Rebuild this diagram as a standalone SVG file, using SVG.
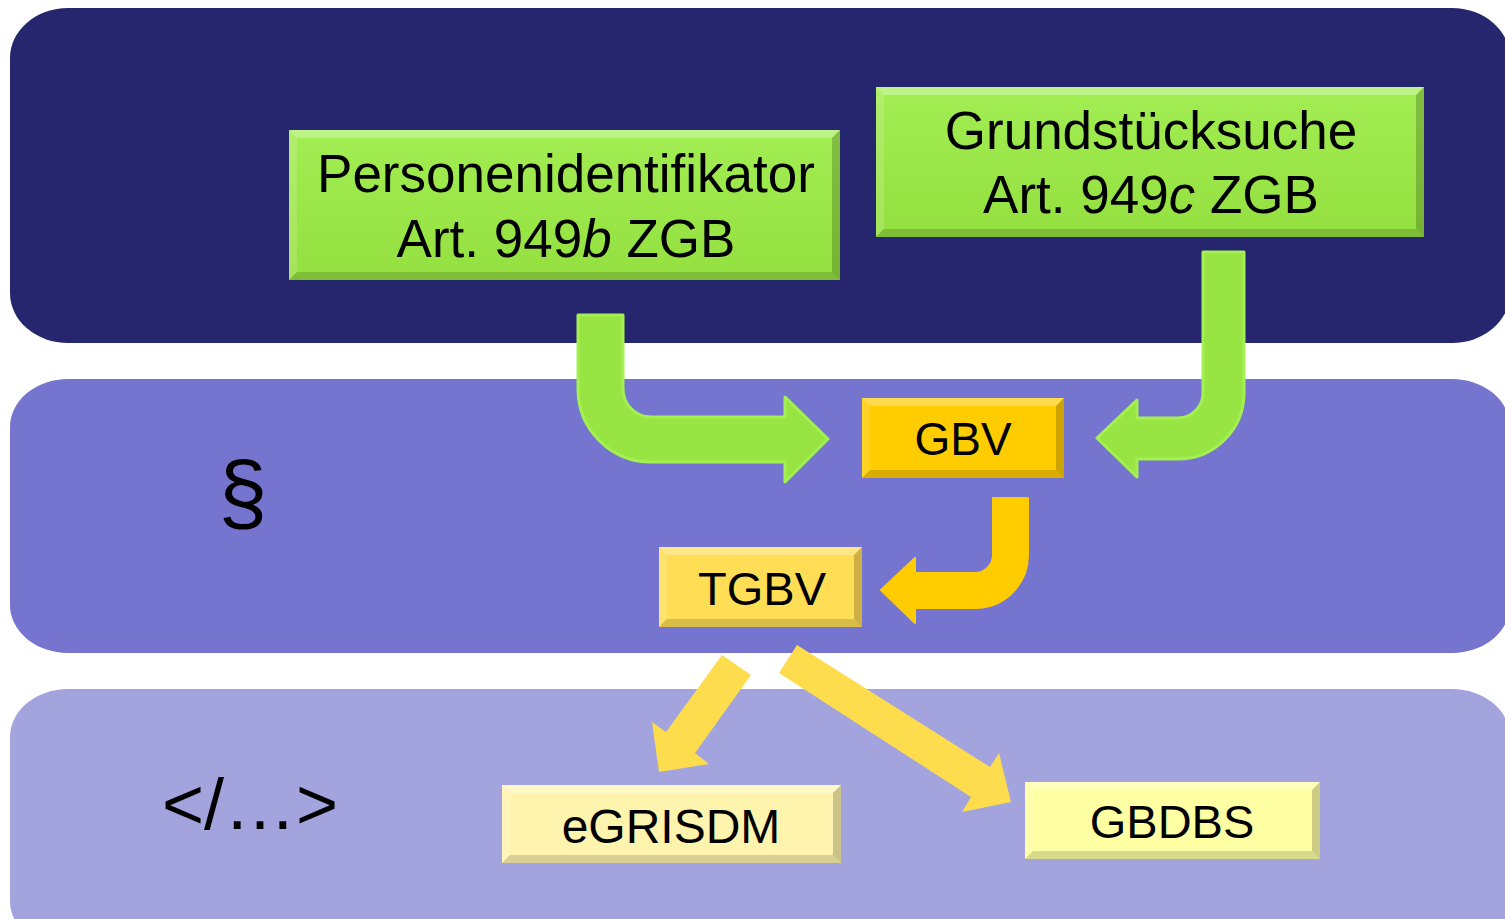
<svg xmlns="http://www.w3.org/2000/svg" width="1505" height="919" viewBox="0 0 1505 919">
<defs>
<style>
.lbl{font-family:"Liberation Sans",Arial,sans-serif;fill:#000;text-anchor:middle}
.bt{fill:#fff;opacity:.3}
.bl{fill:#fff;opacity:.15}
.bb{fill:#000;opacity:.15}
.br{fill:#000;opacity:.2}
.green{fill:#97E442;stroke:#A3F052;stroke-width:3;stroke-linejoin:round}
.gold{fill:#FFCC00;stroke:#FFCC00;stroke-width:2;stroke-linejoin:round}
.pale{fill:#FDDD4E}
</style>
<linearGradient id="gG" x1="0" y1="0" x2="0" y2="1"><stop offset="0" stop-color="#A2EE53"/><stop offset="1" stop-color="#94E040"/></linearGradient>
</defs>
<g id="bands">
<rect x="10" y="8" width="1500" height="335" rx="58" ry="50" fill="#26266F"/>
<rect x="10" y="379" width="1500" height="274" rx="58" ry="48" fill="#7575CF"/>
<rect x="10" y="689" width="1500" height="260" rx="58" ry="48" fill="#A3A3DE"/>
<text class="lbl" x="243" y="522" font-size="88">§</text>
<text class="lbl" x="250" y="829" font-size="72">&lt;/…&gt;</text>
</g>
<g id="connectors">
<path class="green" d="M578,315 L578,389 A73,73 0 0 0 651,462 L785,462 L785,482 L828,439 L785,397 L785,417 L651,417 A28,28 0 0 1 623,389 L623,315 Z"/>
<path class="green" d="M1203,252 L1244,252 L1244,393 A66,66 0 0 1 1178,459 L1137,459 L1137,477 L1097,438 L1137,400 L1137,418 L1178,418 A25,25 0 0 0 1203,393 Z"/>
<path class="gold" d="M993,498 L1028,498 L1028,555 A53,53 0 0 1 975,608 L915,608 L915,623 L881,590 L915,558 L915,573 L975,573 A18,18 0 0 0 993,555 Z"/>
<polygon class="pale" points="722,655 751,675 695,753 709,764 659,772 652,722 666,732"/>
<polygon class="pale" points="797,645 990,767 999,753 1011,802 962,812 971,797 779,673"/>
</g>
<g id="personenidentifikator">
<rect x="289" y="130" width="551" height="150" fill="url(#gG)"/>
<polygon class="bt" points="289,130 840,130 832,138 297,138"/>
<polygon class="bl" points="289,130 297,138 297,272 289,280"/>
<polygon class="bb" points="289,280 297,272 832,272 840,280"/>
<polygon class="br" points="840,130 840,280 832,272 832,138"/>
<text class="lbl" x="566" y="192" font-size="53">Personenidentifikator</text>
<text class="lbl" x="566" y="257" font-size="53">Art. 949<tspan font-style="italic">b</tspan> ZGB</text>
</g>
<g id="grundstuecksuche">
<rect x="876" y="87" width="548" height="150" fill="url(#gG)"/>
<polygon class="bt" points="876,87 1424,87 1416,95 884,95"/>
<polygon class="bl" points="876,87 884,95 884,229 876,237"/>
<polygon class="bb" points="876,237 884,229 1416,229 1424,237"/>
<polygon class="br" points="1424,87 1424,237 1416,229 1416,95"/>
<text class="lbl" x="1151" y="149" font-size="53">Grundstücksuche</text>
<text class="lbl" x="1151" y="213" font-size="53">Art. 949<tspan font-style="italic">c</tspan> ZGB</text>
</g>
<g id="gbv">
<rect x="862" y="398" width="202" height="80" fill="#FFCC00"/>
<polygon class="bt" points="862,398 1064,398 1056,406 870,406"/>
<polygon class="bl" points="862,398 870,406 870,470 862,478"/>
<polygon class="bb" points="862,478 870,470 1056,470 1064,478"/>
<polygon class="br" points="1064,398 1064,478 1056,470 1056,406"/>
<text class="lbl" x="963" y="455" font-size="46">GBV</text>
</g>
<g id="tgbv">
<rect x="659" y="547" width="203" height="80" fill="#FFDD55"/>
<polygon class="bt" points="659,547 862,547 854,555 667,555"/>
<polygon class="bl" points="659,547 667,555 667,619 659,627"/>
<polygon class="bb" points="659,627 667,619 854,619 862,627"/>
<polygon class="br" points="862,547 862,627 854,619 854,555"/>
<text class="lbl" x="762" y="605" font-size="47">TGBV</text>
</g>
<g id="egrisdm">
<rect x="502" y="785" width="339" height="78" fill="#FFF4AE"/>
<polygon class="bt" points="502,785 841,785 833,793 510,793"/>
<polygon class="bl" points="502,785 510,793 510,855 502,863"/>
<polygon class="bb" points="502,863 510,855 833,855 841,863"/>
<polygon class="br" points="841,785 841,863 833,855 833,793"/>
<text class="lbl" x="671" y="843" font-size="48">eGRISDM</text>
</g>
<g id="gbdbs">
<rect x="1025" y="782" width="295" height="77" fill="#FFFFA3"/>
<polygon class="bt" points="1025,782 1320,782 1312,790 1033,790"/>
<polygon class="bl" points="1025,782 1033,790 1033,851 1025,859"/>
<polygon class="bb" points="1025,859 1033,851 1312,851 1320,859"/>
<polygon class="br" points="1320,782 1320,859 1312,851 1312,790"/>
<text class="lbl" x="1172" y="838" font-size="47">GBDBS</text>
</g>
</svg>
